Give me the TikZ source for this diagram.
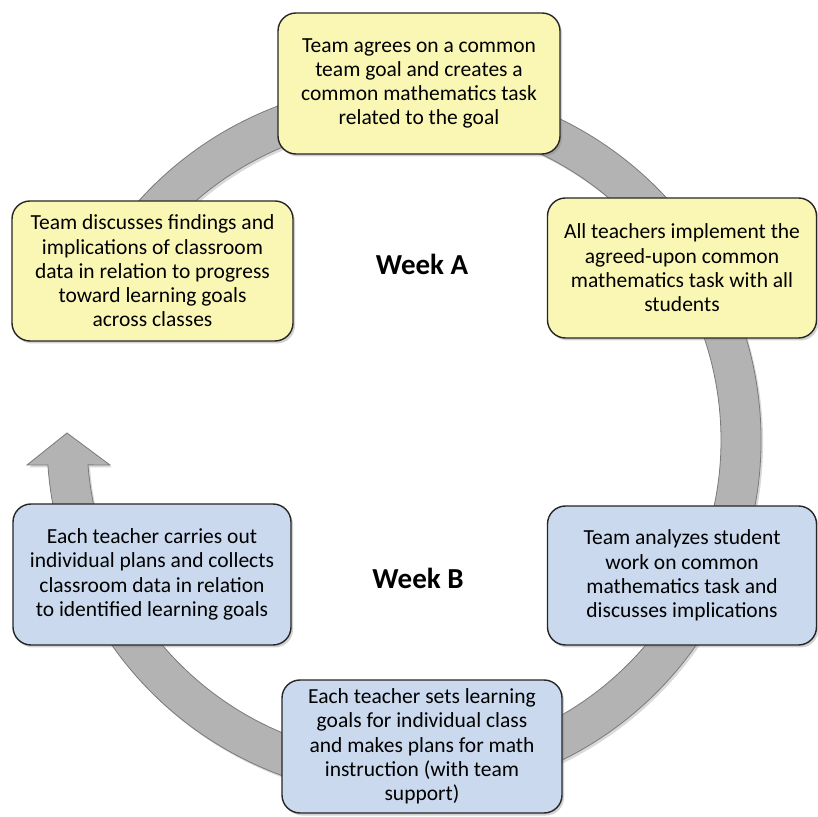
\documentclass[tikz,border=0pt]{standalone}
\usepackage{fontspec}
\setmainfont{Carlito}
\usetikzlibrary{shadows}
\definecolor{boxyellow}{HTML}{FAF7B5}
\definecolor{boxblue}{HTML}{CAD9EE}
\definecolor{bandgray}{HTML}{B3B3B3}
\definecolor{bandedge}{HTML}{7A7A7A}
\tikzset{
  stagebox/.style={draw=black!85, line width=1.4pt, rounded corners=18pt,
    align=center, inner sep=0pt, font=\fontsize{21.5}{24.3}\selectfont,
    drop shadow={opacity=0.35, shadow xshift=2pt, shadow yshift=-2.5pt}},
  yel/.style={stagebox, fill=boxyellow},
  blu/.style={stagebox, fill=boxblue},
  weeklabel/.style={font=\fontsize{29}{32}\selectfont\bfseries},
  band/.style={fill=bandgray, draw=bandedge, line width=0.8pt}
}
\begin{document}
\begin{tikzpicture}[x=1pt, y=1pt]
\useasboundingbox (0,0) rectangle (818,816);
\fill[white] (0,0) rectangle (818,816);
% circular band with arrow head
\begin{scope}[shift={(404,376)}]
  \fill[black, opacity=0.15, shift={(2,-2.5)}]
    (150:357) arc[start angle=150, end angle=-176, radius=357]
    -- (-377,-25) -- (-337,7) -- (-294,-25)
    -- (-175.5:317) arc[start angle=-175.5, end angle=150, radius=317] -- cycle;
  \path[band]
    (150:357) arc[start angle=150, end angle=-176, radius=357]
    -- (-377,-25) -- (-337,7) -- (-294,-25)
    -- (-175.5:317) arc[start angle=-175.5, end angle=150, radius=317] -- cycle;
\end{scope}
% boxes
\node[yel, minimum width=282, minimum height=141] (top) at (419,732.5)
  {Team agrees on a common\\team goal and creates a\\common mathematics task\\related to the goal};
\node[yel, minimum width=269, minimum height=140] (rt) at (682,548)
  {All teachers implement the\\agreed-upon common\\mathematics task with all\\students};
\node[yel, minimum width=281, minimum height=140] (lt) at (152.5,545)
  {Team discusses findings and\\implications of classroom\\data in relation to progress\\toward learning goals\\across classes};
\node[blu, minimum width=278, minimum height=141] (lb) at (152,241.5)
  {Each teacher carries out\\individual plans and collects\\classroom data in relation\\to identified learning goals};
\node[blu, minimum width=269, minimum height=139] (rb) at (682,240.5)
  {Team analyzes student\\work on common\\mathematics task and\\discusses implications};
\node[blu, minimum width=280, minimum height=133] (bot) at (422,69.5)
  {Each teacher sets learning\\goals for individual class\\and makes plans for math\\instruction (with team\\support)};
% week labels
\node[weeklabel] (wa) at (422,552) {Week A};
\node[weeklabel] (wb) at (418,238) {Week B};
\end{tikzpicture}
\end{document}
